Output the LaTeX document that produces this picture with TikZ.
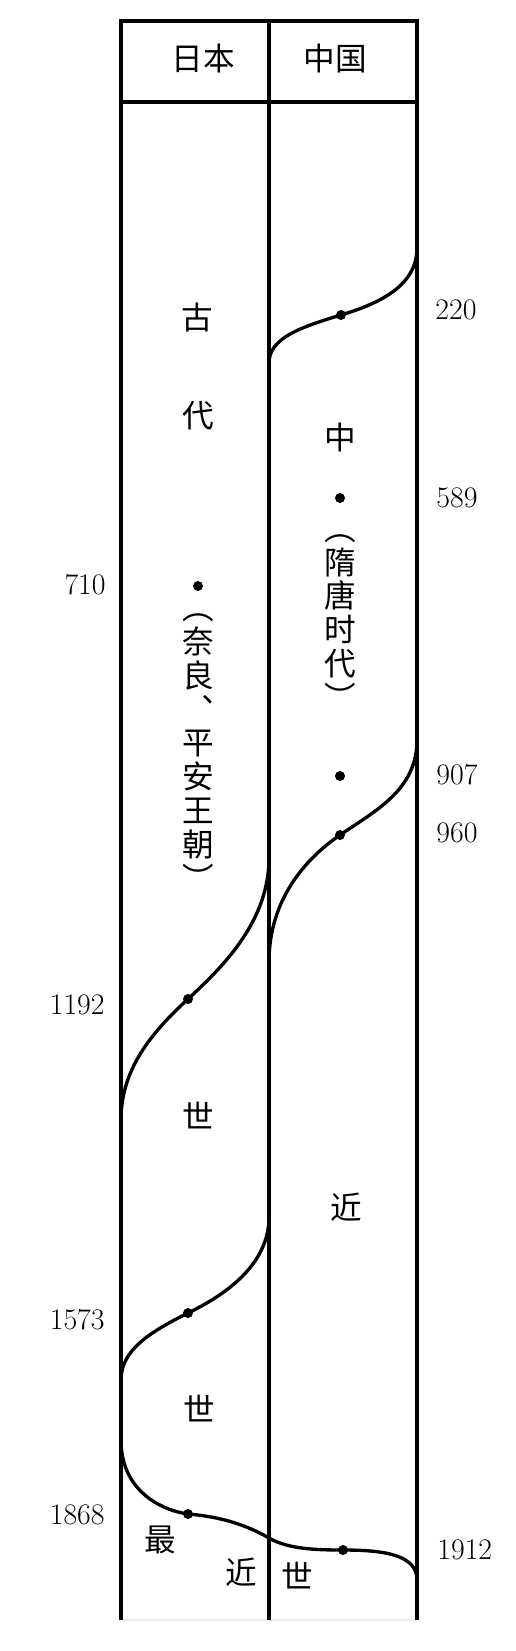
\documentclass[tikz,border=0pt]{standalone}
\usepackage{fontspec}
\newfontfamily\cjk{Noto Sans CJK SC}

\tikzset{
    era/.style={font=\cjk\fontsize{18}{19}\selectfont, inner sep=0pt},
    vera/.style={font=\cjk\fontsize{18}{19.3}\selectfont, align=center, inner sep=0pt},
    year/.style={font=\fontsize{17}{19}\selectfont, inner sep=0pt},
    dot/.style={circle, fill=black, inner sep=0pt, minimum size=0.2cm},
    frame/.style={line width=2.3pt},
    border/.style={line width=1.9pt}
}

\begin{document}
\begin{tikzpicture}[x=0.02cm, y=-0.02cm]
    \useasboundingbox (0,0) rectangle (515,1651);
    % table
    \draw [black!8, line width=0.6pt] (121,1620) -- (417,1620);
    \draw [frame] (121,1620) -- (121,21) -- (417,21) -- (417,1620);
    \draw [frame] (269,21) -- (269,1620);
    \draw [frame] (121,102) -- (417,102);
    \node [era] (nihon) at (203,58) {日本};
    \node [era] (chugoku) at (335,58) {中国};
    % dots
    \node [dot] (d220) at (341,315) {};
    \node [dot] (d589) at (340,498) {};
    \node [dot] (d710) at (198,586) {};
    \node [dot] (d907) at (340,776) {};
    \node [dot] (d960) at (340,835) {};
    \node [dot] (d1192) at (188,999) {};
    \node [dot] (d1573) at (188,1313) {};
    \node [dot] (d1868) at (188,1514) {};
    \node [dot] (d1912) at (343,1550) {};
    % period borders
    \draw [border] (417,248) .. controls (417,285) and (381,303) .. (d220.center)
        .. controls (301,327) and (269,338) .. (269,363);
    \draw [border] (417,740) .. controls (417,790) and (375,811) .. (d960.center)
        .. controls (305,859) and (269,900) .. (269,962);
    \draw [border] (269,858) .. controls (269,920) and (225,965) .. (d1192.center)
        .. controls (150,1034) and (121,1070) .. (121,1120);
    \draw [border] (269,1217) .. controls (269,1265) and (225,1295) .. (d1573.center)
        .. controls (150,1332) and (121,1350) .. (121,1380);
    \draw [border] (121,1440) .. controls (121,1490) and (160,1510) .. (d1868.center)
        .. controls (225,1517) and (250,1527) .. (269,1538)
        .. controls (288,1549) and (315,1550) .. (d1912.center)
        .. controls (385,1550) and (417,1555) .. (417,1580);
    % years
    \node [year, anchor=west] (y220) at (435,310) {220};
    \node [year, anchor=west] (y589) at (436,498) {589};
    \node [year, anchor=west] (y907) at (436,775) {907};
    \node [year, anchor=west] (y960) at (436,833) {960};
    \node [year, anchor=west] (y1912) at (437,1550) {1912};
    \node [year, anchor=east] (y710) at (106,585) {710};
    \node [year, anchor=east] (y1192) at (105,1005) {1192};
    \node [year, anchor=east] (y1573) at (105,1320) {1573};
    \node [year, anchor=east] (y1868) at (105,1515) {1868};
    % periods
    \node [era] (ko) at (197,317) {古};
    \node [era] (dai) at (198,416) {代};
    \node [vera] (nara) at (198,752) {︵\\奈\\良\\︑\\平\\安\\王\\朝\\︶};
    \node [era] (chu) at (340,437) {中};
    \node [vera] (zuito) at (340,622) {︵\\隋\\唐\\时\\代\\︶};
    \node [era] (se1) at (198,1116) {世};
    \node [era] (kin1) at (346,1207) {近};
    \node [era] (se2) at (199,1409) {世};
    \node [era] (sai) at (160,1540) {最};
    \node [era] (kin2) at (241,1572) {近};
    \node [era] (se3) at (297,1576) {世};
\end{tikzpicture}
\end{document}
